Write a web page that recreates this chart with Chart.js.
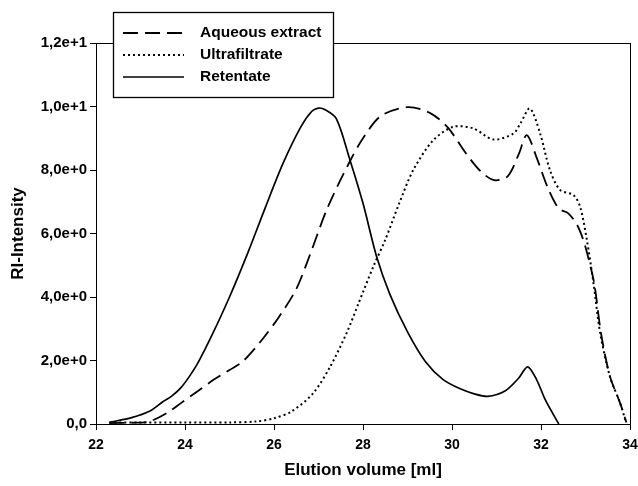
<!DOCTYPE html>
<html>
<head>
<meta charset="utf-8">
<script src="https://cdn.jsdelivr.net/npm/chart.js@4/dist/chart.umd.min.js"></script>
<style>
  html, body { margin: 0; padding: 0; background: #fff; }
  #wrap { width: 638px; height: 486px; }
</style>
</head>
<body>
<div id="wrap"><canvas id="chart"></canvas></div>
<script>
// elution volume [ml] and RI intensity
const retentateX = [22.3, 22.8, 23.2, 23.5, 23.7, 23.9, 24.1, 24.3, 24.6, 25.0, 25.4, 25.8, 26.2, 26.6, 26.85, 27.0, 27.15, 27.4, 27.7, 28.0, 28.3, 28.6, 29.0, 29.4, 29.8, 30.2, 30.5, 30.8, 31.2, 31.5, 31.7, 31.9, 32.1, 32.4];
const retentateY = [0.05, 0.2, 0.4, 0.7, 0.88, 1.13, 1.5, 1.95, 2.78, 4.0, 5.35, 6.8, 8.2, 9.35, 9.85, 9.95, 9.9, 9.62, 8.35, 6.95, 5.3, 4.1, 2.9, 1.97, 1.4, 1.1, 0.95, 0.87, 1.05, 1.45, 1.8, 1.4, 0.75, 0.0];

const aqueousX = [22.3, 22.8, 23.2, 23.6, 23.9, 24.3, 24.64, 25.0, 25.3, 25.7, 26.1, 26.5, 26.8, 27.2, 27.7, 28.0, 28.4, 29.0, 29.5, 29.9, 30.3, 30.65, 30.95, 31.25, 31.5, 31.68, 31.9, 32.15, 32.4, 32.6, 32.8, 32.95, 33.07, 33.2, 33.35, 33.55, 33.78, 33.92];
const aqueousY = [0.03, 0.04, 0.08, 0.35, 0.65, 1.05, 1.39, 1.7, 1.97, 2.6, 3.35, 4.25, 5.3, 6.8, 8.26, 9.0, 9.7, 9.98, 9.8, 9.35, 8.55, 7.95, 7.68, 7.8, 8.5, 9.1, 8.4, 7.45, 6.78, 6.65, 6.3, 5.8, 5.2, 4.4, 2.85, 1.5, 0.65, 0.05];

const ultraX = [22.3, 23.0, 24.0, 25.0, 25.6, 26.0, 26.4, 26.88, 27.26, 27.63, 27.9, 28.23, 28.5, 28.8, 29.13, 29.58, 30.03, 30.48, 30.93, 31.38, 31.55, 31.75, 31.98, 32.2, 32.43, 32.73, 32.88, 33.03, 33.18, 33.33, 33.55, 33.78, 33.9];
const ultraY = [0.05, 0.05, 0.05, 0.05, 0.08, 0.18, 0.4, 0.97, 1.8, 2.86, 3.8, 4.95, 5.8, 6.9, 8.0, 8.94, 9.36, 9.31, 8.96, 9.15, 9.5, 9.94, 9.15, 8.0, 7.37, 7.21, 6.84, 5.8, 4.43, 2.86, 1.49, 0.65, 0.1];

const seriesNames = ['Aqueous extract', 'Ultrafiltrate', 'Retentate'];
const xTicks = [22, 24, 26, 28, 30, 32, 34];
const yTicks = [0, 2, 4, 6, 8, 10, 12];

const schrift = "'Liberation Sans', Arial, sans-serif";

function punkte(xs, ys) {
    return xs.map((x, i) => ({ x: x, y: ys[i] }));
}

// Format like "1,2e+1" / "0,0"
function formatY(v) {
    if (v === 0) return '0,0';
    const exp = Math.floor(Math.log10(Math.abs(v)));
    const mant = v / Math.pow(10, exp);
    return mant.toFixed(1).replace('.', ',') + 'e+' + exp;
}

const stile = [
    { dash: [15, 7], width: 1.8 },
    { dash: [2, 3], width: 2 },
    { dash: [], width: 1.7 }
];

// frame around plot area + legend box
const rahmenPlugin = {
    id: 'rahmen',
    afterDatasetsDraw(chart) {
        const { ctx, chartArea: a } = chart;
        ctx.save();
        ctx.strokeStyle = '#000';
        ctx.lineWidth = 1;
        ctx.setLineDash([]);
        ctx.strokeRect(Math.round(a.left) + 0.5, Math.round(a.top) + 0.5,
            Math.round(a.right - a.left), Math.round(a.bottom - a.top));

        // legend
        const lx = 113, ly = 12, lw = 220, lh = 85;
        ctx.fillStyle = '#fff';
        ctx.fillRect(lx, ly, lw, lh);
        ctx.lineWidth = 1.3;
        ctx.strokeRect(lx + 0.5, ly + 0.5, lw, lh);
        ctx.font = 'bold 15.5px ' + schrift;
        ctx.textBaseline = 'middle';
        ctx.fillStyle = '#000';
        seriesNames.forEach((name, i) => {
            const y = 33 + i * 22;
            ctx.beginPath();
            ctx.lineWidth = stile[i].width;
            ctx.setLineDash(stile[i].dash);
            ctx.moveTo(123, y);
            ctx.lineTo(184, y);
            ctx.stroke();
            ctx.setLineDash([]);
            ctx.fillText(name, 200, y);
        });
        ctx.restore();
    }
};

document.addEventListener('DOMContentLoaded', () => {
    const ctx = document.getElementById('chart').getContext('2d');
    const reihen = [punkte(aqueousX, aqueousY), punkte(ultraX, ultraY), punkte(retentateX, retentateY)];

    new Chart(ctx, {
        type: 'line',
        data: {
            datasets: reihen.map((d, i) => ({
                label: seriesNames[i],
                data: d,
                borderColor: '#000',
                borderWidth: stile[i].width,
                borderDash: stile[i].dash,
                pointRadius: 0,
                fill: false,
                tension: 0.3
            }))
        },
        options: {
            responsive: true,
            maintainAspectRatio: false,
            animation: false,
            layout: { padding: { top: 43, right: 0, left: 0, bottom: 0 } },
            plugins: { legend: { display: false }, tooltip: { enabled: false } },
            scales: {
                x: {
                    type: 'linear',
                    min: 22,
                    max: 34,
                    afterBuildTicks: s => { s.ticks = xTicks.map(v => ({ value: v })); },
                    afterFit: s => { s.height = 62; s.paddingRight = 8; },
                    grid: { drawOnChartArea: false, drawTicks: true, tickLength: 6, color: '#000' },
                    border: { display: true, color: '#000', width: 1 },
                    ticks: { color: '#000', padding: 7, maxRotation: 0, font: { family: schrift, size: 14, weight: 'bold' } },
                    title: {
                        display: true,
                        text: 'Elution volume [ml]',
                        color: '#000',
                        font: { family: schrift, size: 17, weight: 'bold' },
                        padding: { top: 0, bottom: 5 }
                    }
                },
                y: {
                    min: 0,
                    max: 12,
                    afterBuildTicks: s => { s.ticks = yTicks.map(v => ({ value: v })); },
                    afterFit: s => { s.width = 96; },
                    grid: { drawOnChartArea: false, drawTicks: true, tickLength: 6, color: '#000' },
                    border: { display: true, color: '#000', width: 1 },
                    ticks: { color: '#000', padding: 3, callback: v => formatY(v), font: { family: schrift, size: 15, weight: 'bold' } },
                    title: {
                        display: true,
                        text: 'RI-Intensity',
                        color: '#000',
                        font: { family: schrift, size: 17, weight: 'bold' },
                        padding: { top: 8, bottom: 0 }
                    }
                }
            }
        },
        plugins: [rahmenPlugin]
    });
});
</script>
</body>
</html>
